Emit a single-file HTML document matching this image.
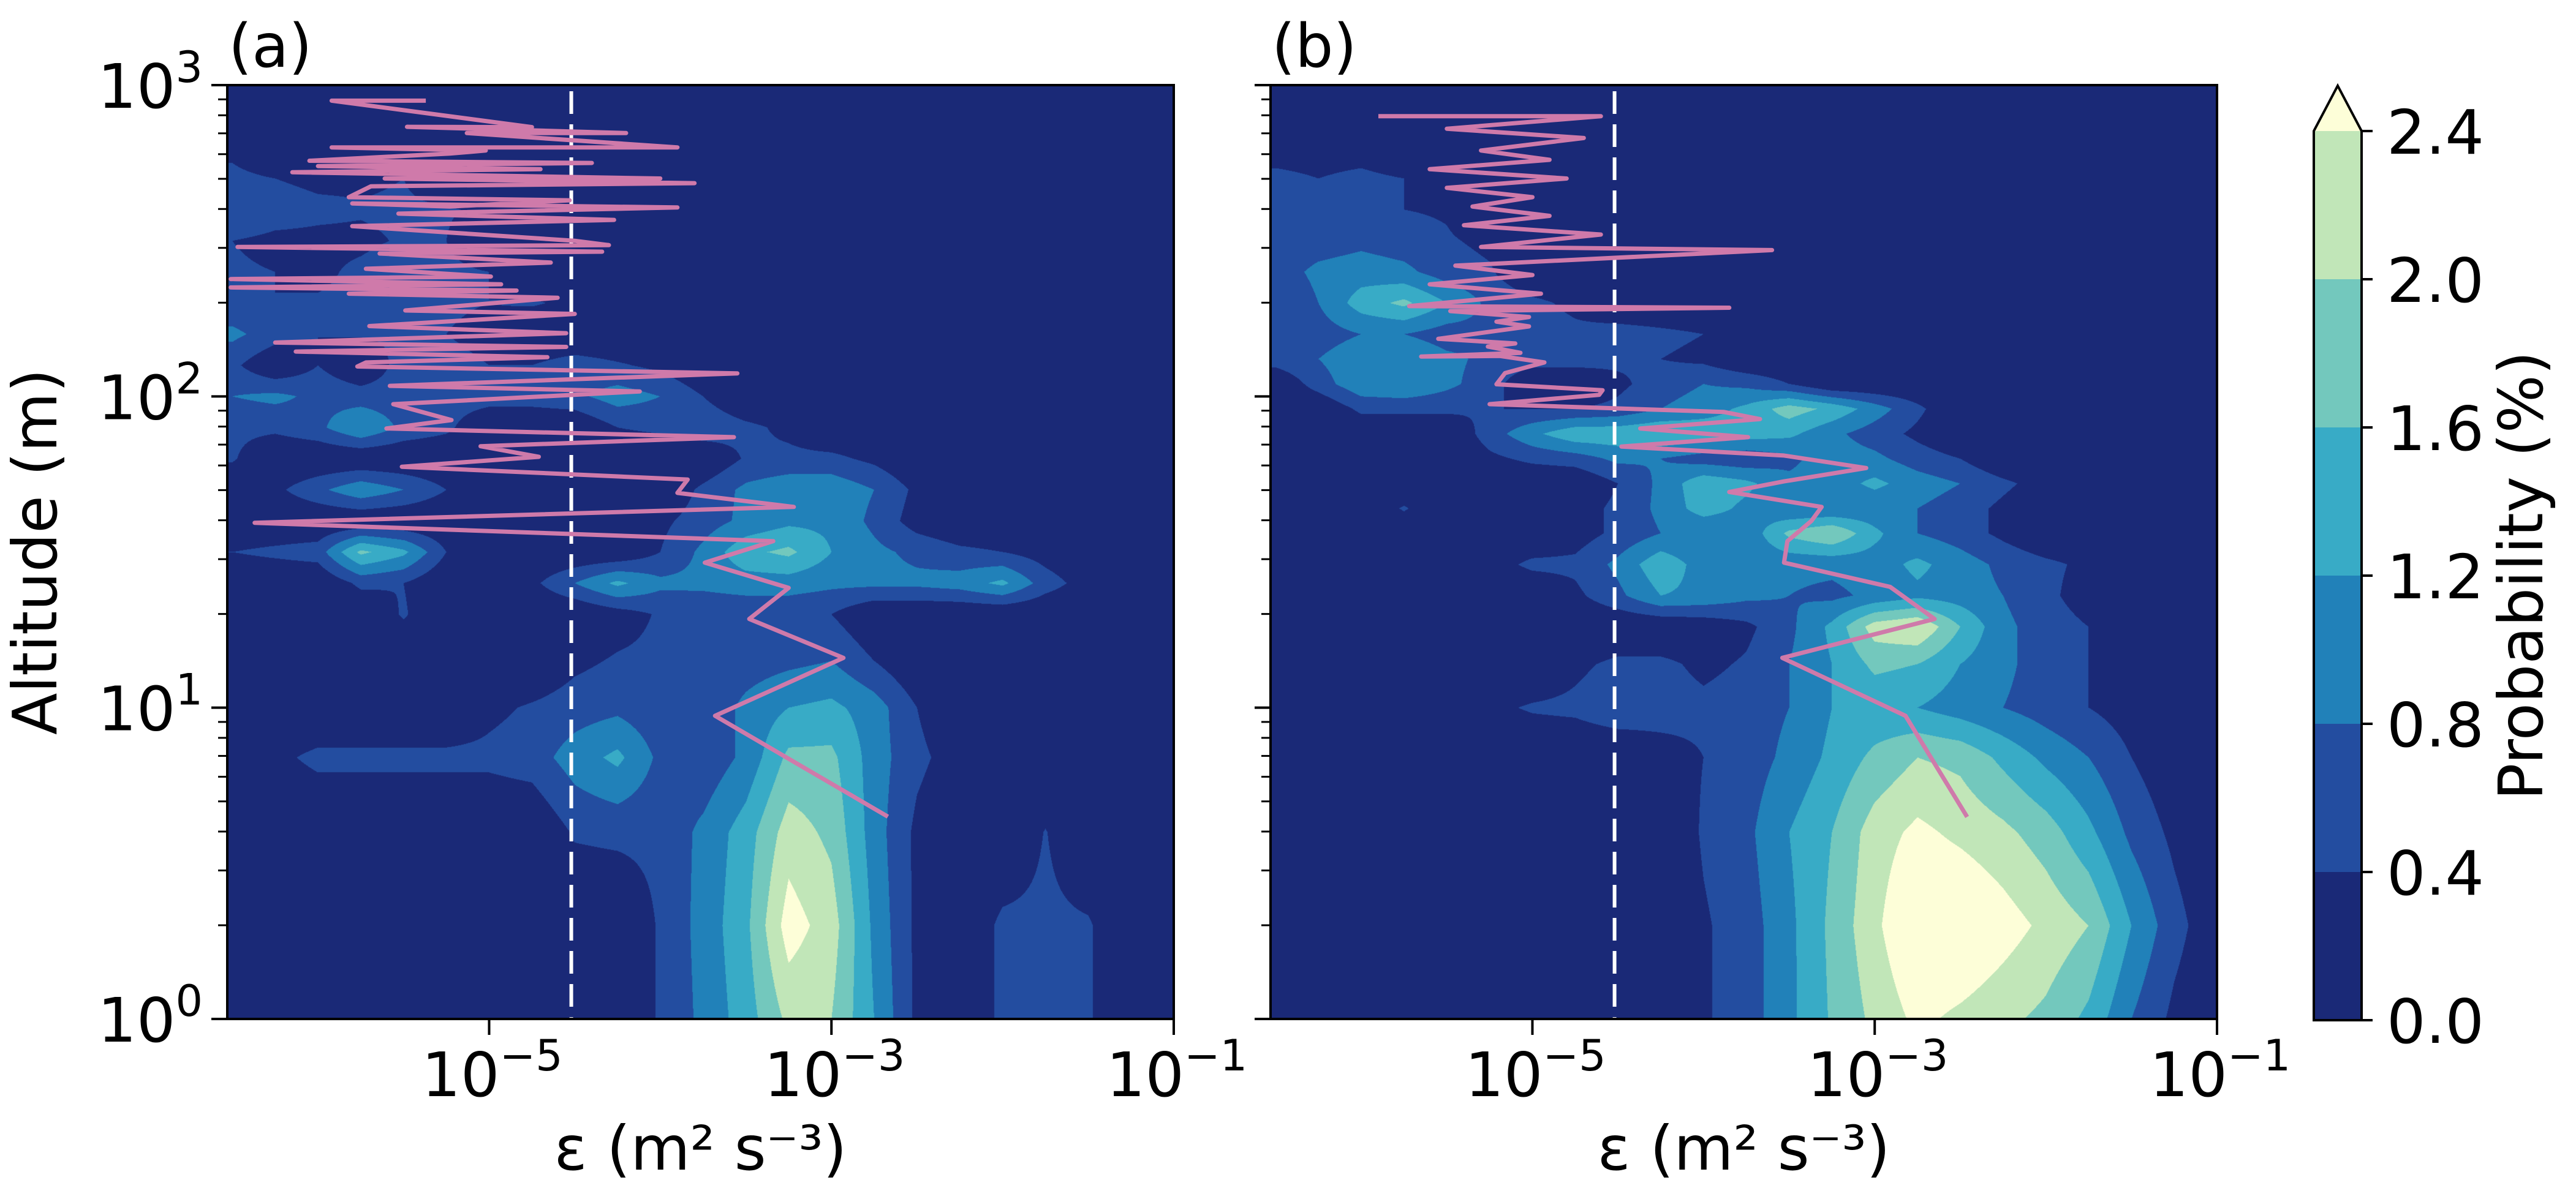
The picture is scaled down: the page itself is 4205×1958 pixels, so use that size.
<!DOCTYPE html>
<html><head><meta charset="utf-8">
<style>
html,body{margin:0;padding:0;background:#fff;}
#root{position:relative;width:4205px;height:1958px;overflow:hidden;font-family:"DejaVu Sans","Liberation Sans",sans-serif;}
canvas{position:absolute;}
svg{position:absolute;left:0;top:0;}
</style></head>
<body>
<div id="root">
<canvas id="ca" width="1545" height="1525" style="left:371px;top:139px"></canvas>
<canvas id="cb" width="1545" height="1525" style="left:2074px;top:139px"></canvas>
<svg id="ov" width="4205" height="1958"></svg>
</div>
<script>
// ---- data ----
const xNodes = [-6.5,-6.25,-6.0,-5.75,-5.5,-5.25,-5.0,-4.75,-4.5,-4.25,-4.0,-3.75,-3.5,-3.25,-3.0,-2.75,-2.5,-2.25,-2.0,-1.75,-1.5,-1.25,-1.0];
const yNodesA = [0,0.3,0.6,0.84,1.0,1.15,1.3,1.4,1.5,1.6,1.7,1.8,1.9,2.0,2.1,2.2,2.3,2.4,2.5,2.6,2.7,2.8,2.9,3.0];
const gridA = [
[0,0,0,0,0,0,0,0,0,0,0.45,0.9,1.4,2.1,2.0,1.2,0.3,0,0.5,0.5,0.45,0,0],
[0,0,0,0,0,0,0,0,0,0,0.45,0.95,1.5,2.6,2.2,1.1,0.3,0,0.5,0.5,0.45,0,0],
[0,0,0,0,0,0,0,0,0.45,0.5,0.5,0.9,1.4,2.2,1.9,1.0,0.3,0,0,0.42,0,0,0],
[0.2,0.3,0.5,0.5,0.5,0.5,0.5,0.6,1.0,1.3,0.7,0.5,0.9,1.7,1.7,1.0,0.5,0.2,0,0,0,0,0],
[0,0,0,0,0,0,0.3,0.45,0.6,0.7,0.5,0.5,0.9,1.2,1.3,1.0,0.4,0,0,0,0,0,0],
[0,0,0,0,0,0,0,0,0.3,0.45,0.5,0.5,0.6,0.7,0.8,0.4,0,0,0,0,0,0,0],
[0,0,0,0,0.45,0,0,0,0,0.2,0.45,0.5,0.5,0.5,0.4,0,0,0,0,0,0,0,0],
[0,0,0,0.5,0.4,0,0,0.3,0.8,1.3,0.9,0.9,1.0,1.0,0.9,0.9,0.9,1.0,1.3,0.6,0.2,0,0],
[0.4,0.5,0.6,1.7,1.3,0.4,0,0,0,0,0.4,0.9,1.5,1.7,1.2,0.9,0.7,0.5,0.4,0.2,0,0,0],
[0,0,0,0,0,0,0,0,0,0,0.3,0.6,0.9,1.1,1.1,0.7,0.2,0,0,0,0,0,0],
[0,0.3,0.7,1.1,0.8,0.4,0,0,0,0,0,0.5,0.9,1.1,1.1,0.8,0.3,0,0,0,0,0,0],
[0.45,0,0,0,0,0,0,0,0,0,0,0,0.45,0.5,0.5,0.3,0,0,0,0,0,0,0],
[0.5,0.5,0.7,1.2,0.7,0.5,0,0,0,0.4,0.5,0.7,0.5,0.3,0,0,0,0,0.4,0,0,0,0],
[0.8,0.9,0.7,0.6,0.6,0.6,0.6,0.6,0.7,1.0,0.8,0.4,0,0,0,0,0,0.4,0.4,0,0,0,0],
[0.5,0,0.4,0,0.6,0.5,0.4,0.4,0.6,0.45,0.3,0,0,0,0,0,0,0,0,0,0,0,0],
[0.9,0.6,0.4,0.45,0.45,0.4,0.3,0,0,0,0,0,0,0,0,0,0,0,0,0,0,0,0],
[0.5,0.4,0.45,0.5,0.6,0.45,0.4,0.45,0.3,0,0,0,0,0,0,0,0,0,0,0,0,0,0],
[0.45,0.4,0.3,0.5,0.7,0.5,0.4,0,0,0,0,0,0,0,0,0,0,0,0,0,0,0,0],
[0.4,0.3,0.3,0.3,0.45,0.4,0,0,0,0,0,0,0,0,0,0,0,0,0,0,0,0,0],
[0.8,0.6,0.5,0.45,0.5,0.45,0.3,0,0,0,0,0,0,0,0,0,0,0,0,0,0,0,0],
[0.5,0.4,0.3,0.3,0.4,0,0,0,0,0,0,0,0,0,0,0,0,0,0,0,0,0,0],
[0.3,0,0,0.3,0,0,0,0,0,0,0,0,0,0,0,0,0,0,0,0,0,0,0],
[0.2,0,0.2,0,0,0,0,0,0,0,0,0,0,0,0,0,0,0,0,0,0,0,0],
[0,0,0,0,0,0,0,0,0,0,0,0,0,0,0,0,0,0,0,0,0,0,0]
];
const yNodesB = [0,0.3,0.6,0.84,1.0,1.14,1.26,1.36,1.46,1.56,1.64,1.72,1.80,1.88,1.96,2.04,2.12,2.2,2.3,2.4,2.5,2.6,2.7,2.8,2.9,3.0];
const gridB = [
[0,0,0,0,0,0,0,0,0,0.1,0.35,0.6,1.1,1.65,2.1,2.5,2.3,2.1,1.9,1.5,0.8,0.3,0],
[0,0,0,0,0,0,0,0,0,0,0.35,0.6,1.1,1.7,2.3,2.9,2.9,2.6,2.3,2.0,1.2,0.55,0.1],
[0,0,0,0,0,0,0,0,0,0,0.45,0.7,1.2,1.6,2.2,2.5,2.3,2.1,1.8,1.3,0.7,0.3,0],
[0,0,0,0,0,0,0,0,0,0.2,0.4,0.6,0.9,1.3,1.7,2.0,1.9,1.5,1.1,0.8,0.4,0.1,0],
[0,0,0,0,0,0.3,0.45,0.5,0.7,0.6,0.5,0.6,0.8,1.2,1.3,1.2,1.0,0.8,0.6,0.4,0.2,0,0],
[0,0,0,0,0,0,0,0.3,0.5,0.5,0.3,0.45,0.8,1.2,1.7,1.6,1.2,0.9,0.6,0.4,0,0,0],
[0,0,0,0,0,0,0,0,0,0,0.1,0.3,0.7,1.3,2.2,2.4,1.6,0.9,0.6,0.4,0,0,0],
[0,0,0,0,0,0,0,0.3,0.7,1.2,1.1,0.9,0.8,0.7,0.9,1.1,1.0,0.8,0.5,0.2,0,0,0],
[0,0,0,0,0,0.2,0.5,0.5,0.9,1.5,1.0,0.9,0.9,0.9,1.0,1.3,1.0,0.7,0.5,0.3,0.1,0,0],
[0,0,0,0,0,0,0,0.2,0.5,0.8,0.8,0.9,1.7,2.0,1.3,0.8,0.6,0.3,0,0,0,0,0],
[0,0,0,0.45,0,0,0,0.2,0.5,0.9,1.4,1.1,0.8,0.8,0.9,0.8,0.6,0.3,0,0,0,0,0],
[0,0,0,0,0,0,0,0,0.4,0.9,1.5,1.3,0.9,1.0,1.3,1.0,0.8,0.5,0.2,0,0,0,0],
[0,0,0,0,0,0.3,0.5,0.6,0.9,0.8,0.6,0.5,0.7,1.0,0.9,0.6,0.4,0,0,0,0,0,0],
[0,0,0,0,0,0.6,1.1,1.5,1.5,1.6,1.5,1.4,1.3,0.9,0.6,0.3,0,0,0,0,0,0,0],
[0,0,0.5,0.5,0.5,0.4,0.4,0.4,0.5,0.8,1.0,1.3,1.8,1.5,1.0,0.5,0,0,0,0,0,0,0],
[0,0.6,1.1,1.2,0.9,0.6,0,0,0.3,0.6,0.8,0.7,0.4,0,0,0,0,0,0,0,0,0,0],
[0.6,0.8,1.1,1.2,0.9,0.7,0.6,0.6,0.5,0.4,0.3,0,0,0,0,0,0,0,0,0,0,0,0],
[0.5,0.6,0.8,0.8,0.6,0.7,0.6,0.5,0.6,0.5,0.4,0,0,0,0,0,0,0,0,0,0,0,0],
[0.4,0.8,1.4,1.7,1.2,0.7,0.5,0.3,0,0,0,0,0,0,0,0,0,0,0,0,0,0,0],
[0.6,0.9,1.0,0.9,0.6,0.45,0,0,0,0,0,0,0,0,0,0,0,0,0,0,0,0,0],
[0.5,0.6,0.7,0.6,0.45,0.3,0,0,0,0,0,0,0,0,0,0,0,0,0,0,0,0,0],
[0.6,0.5,0.45,0.4,0.35,0,0,0,0,0,0,0,0,0,0,0,0,0,0,0,0,0,0],
[0.45,0.4,0.45,0.4,0.3,0,0,0,0,0,0,0,0,0,0,0,0,0,0,0,0,0,0],
[0.3,0.3,0.3,0.2,0,0,0,0,0,0,0,0,0,0,0,0,0,0,0,0,0,0,0],
[0,0,0.2,0,0,0,0,0,0,0,0,0,0,0,0,0,0,0,0,0,0,0,0],
[0,0,0,0,0,0,0,0,0,0,0,0,0,0,0,0,0,0,0,0,0,0,0]
];
const levels = [0,0.4,0.8,1.2,1.6,2.0,2.4];
const levelLabels = ["0.0","0.4","0.8","1.2","1.6","2.0","2.4"];
const levelColors = ["#1a2977","#234da0","#2181b9","#38abc6","#73c8bd","#c1e6b8","#fdfed8"];
// median profile: log10(eps), log10(altitude)
const lineAx = [-2.67,-3.68,-2.93,-3.48,-3.25,-3.74,-3.34,-6.37,-3.22,-3.90,-3.84,-5.51,-4.71,-5.05,-3.57,-5.60,-5.22,-5.56,-4.12,-5.58,-3.55,-5.77,-5.72,-4.66,-6.13,-4.55,-6.25,-4.55,-5.70,-4.50,-5.49,-4.60,-5.82,-4.84,-6.51,-4.93,-6.51,-4.99,-5.72,-4.64,-5.64,-4.34,-6.47,-4.30,-4.50,-5.80,-4.27,-5.53,-3.90,-5.80,-5.23,-4.53,-5.82,-5.69,-3.80,-5.61,-4.00,-6.15,-4.70,-6.00,-4.40,-6.05,-5.23,-5.02,-5.92,-3.90,-5.13,-4.20,-5.48,-4.75,-5.92,-5.37];
const lineAy = [0.65,0.974,1.16,1.285,1.385,1.466,1.535,1.594,1.645,1.69,1.733,1.774,1.806,1.84,1.869,1.897,1.924,1.975,2.016,2.034,2.074,2.096,2.109,2.126,2.144,2.159,2.173,2.203,2.226,2.265,2.276,2.317,2.33,2.34,2.35,2.36,2.377,2.385,2.41,2.43,2.459,2.465,2.48,2.486,2.5,2.547,2.567,2.587,2.607,2.62,2.61,2.63,2.64,2.675,2.685,2.70,2.70,2.72,2.73,2.74,2.75,2.757,2.78,2.79,2.80,2.80,2.846,2.846,2.866,2.865,2.95,2.95];
const lineBx = [-2.46,-2.82,-3.54,-2.65,-2.91,-3.53,-3.51,-3.37,-3.31,-3.85,-3.53,-3.05,-3.53,-4.48,-3.74,-4.37,-3.67,-3.88,-5.25,-4.61,-4.59,-5.21,-5.16,-4.93,-5.19,-5.65,-5.07,-5.26,-5.10,-5.55,-5.02,-5.21,-5.02,-5.48,-3.85,-5.72,-4.95,-5.6,-5.0,-5.45,-3.6,-5.3,-4.6,-5.4,-4.9,-5.35,-5.0,-5.5,-4.8,-5.6,-4.9,-5.3,-4.7,-5.5,-4.6,-5.9];
const lineBy = [0.649,0.974,1.16,1.285,1.388,1.466,1.535,1.60,1.645,1.693,1.727,1.77,1.81,1.839,1.869,1.897,1.927,1.95,1.975,2.005,2.02,2.039,2.075,2.109,2.13,2.128,2.14,2.16,2.17,2.185,2.225,2.24,2.255,2.274,2.285,2.29,2.33,2.36,2.39,2.42,2.47,2.48,2.52,2.55,2.58,2.61,2.64,2.67,2.70,2.73,2.76,2.79,2.83,2.86,2.9,2.9];
const thresholdEps = -4.52;
const xTicks = [-5,-3,-1];
const xTickExp = ["-5","-3","-1"];
const yTicks = [0,1,2,3];
const yTickExp = ["0","1","2","3"];

// ---- axes ----
const XMIN=-6.53, XMAX=-1.0, PW=1545, PH=1525, PTOP=139;
const panels=[{left:371,canvas:'ca',grid:gridA,yn:yNodesA,lx:lineAx,ly:lineAy,name:'a'},
              {left:2074,canvas:'cb',grid:gridB,yn:yNodesB,lx:lineBx,ly:lineBy,name:'b'}];
function xs(le){return (le-XMIN)/(XMAX-XMIN)*PW;}
function ys(la){return PH - la/3*PH;}
function hex(c){return [parseInt(c.substr(1,2),16),parseInt(c.substr(3,2),16),parseInt(c.substr(5,2),16)];}
const rgb = levelColors.map(hex);
function lvl(v){let k=0;for(let i=1;i<levels.length;i++){if(v>=levels[i])k=i;}return k;}
function interp(grid,yn,le,la){
  let fx=(le-xNodes[0])/(xNodes[1]-xNodes[0]);
  fx=Math.max(0,Math.min(xNodes.length-1.0001,fx));
  const i=Math.floor(fx),tx=fx-i;
  let j=0;while(j<yn.length-2&&la>yn[j+1])j++;
  let ty=(la-yn[j])/(yn[j+1]-yn[j]);ty=Math.max(0,Math.min(1,ty));
  const a=grid[j][i],b=grid[j][i+1],c=grid[j+1][i],d=grid[j+1][i+1];
  return (a*(1-tx)+b*tx)*(1-ty)+(c*(1-tx)+d*tx)*ty;
}
panels.forEach(p=>{
  const cv=document.getElementById(p.canvas),ctx=cv.getContext('2d');
  const img=ctx.createImageData(PW,PH),D=img.data;
  for(let py=0;py<PH;py++){
    const la=(PH-py-0.5)/PH*3;
    for(let px=0;px<PW;px++){
      const le=XMIN+(px+0.5)/PW*(XMAX-XMIN);
      const c=rgb[lvl(interp(p.grid,p.yn,le,la))];
      const o=(py*PW+px)*4;D[o]=c[0];D[o+1]=c[1];D[o+2]=c[2];D[o+3]=255;
    }
  }
  ctx.putImageData(img,0,0);
});

const NS='http://www.w3.org/2000/svg';
const svg=document.getElementById('ov');
function mk(tag,attrs,parent){const e=document.createElementNS(NS,tag);for(const k in attrs)e.setAttribute(k,attrs[k]);(parent||svg).appendChild(e);return e;}
function sup(base,exp,x,y,anchor,parent){
  const t=mk('text',{x:x,y:y,'font-size':100,'text-anchor':anchor,fill:'#000','font-family':'DejaVu Sans, Liberation Sans, sans-serif'},parent);
  const a=document.createElementNS(NS,'tspan');a.textContent=base;t.appendChild(a);
  const b=document.createElementNS(NS,'tspan');b.setAttribute('dy','-42');b.setAttribute('font-size','70');b.textContent=exp;t.appendChild(b);
  return t;
}
panels.forEach((p,pi)=>{
  const g=mk('g',{transform:`translate(${p.left},${PTOP})`});
  
  
  const tl=mk('line',{x1:xs(thresholdEps),x2:xs(thresholdEps),y1:10,y2:PH,stroke:'#fff','stroke-width':6,'stroke-dasharray':'37 17'},g);
  
  
  let d='';p.lx.forEach((v,i)=>{d+=(i?'L':'M')+xs(v).toFixed(1)+','+ys(p.ly[i]).toFixed(1);});
  const pl=mk('path',{d:d,fill:'none',stroke:'#cf7aaa','stroke-width':7,'stroke-linejoin':'round'},g);
  
  
  const fr=mk('rect',{x:0,y:0,width:PW,height:PH,fill:'none',stroke:'#000','stroke-width':4},g);
  
  
  xTicks.forEach((t,i)=>{
    mk('line',{x1:xs(t),x2:xs(t),y1:PH,y2:PH+26,stroke:'#000','stroke-width':4},g);
    const lb=sup('10','\u2212'+xTickExp[i].slice(1),xs(t)+5,1790-PTOP,'middle',g);
    
    
  });
  yTicks.forEach((t,i)=>{
    mk('line',{x1:-26,x2:0,y1:ys(t),y2:ys(t),stroke:'#000','stroke-width':4},g);
    if(t<3){for(let m=2;m<10;m++){const yy=ys(t+Math.log10(m));mk('line',{x1:-15,x2:0,y1:yy,y2:yy,stroke:'#000','stroke-width':3},g);}}
    if(pi===0){
      const lb=sup('10',yTickExp[i],-40,ys(t)+37,'end',g);
      
      
    }
  });
  const xl=mk('text',{x:PW/2,y:1910-PTOP,'font-size':100,'text-anchor':'middle','font-family':'DejaVu Sans, Liberation Sans, sans-serif'},g);
  xl.textContent='\u03b5 (m\u00b2 s\u207b\u00b3)';
  
  
  const pt=mk('text',{x:2,y:-30,'font-size':98,'font-family':'DejaVu Sans, Liberation Sans, sans-serif'},g);
  pt.textContent='('+p.name+')';
  
  
});
const yl=mk('text',{x:0,y:0,'font-size':100,'text-anchor':'middle','font-family':'DejaVu Sans, Liberation Sans, sans-serif',transform:'translate(92,901) rotate(-90)'});
yl.textContent='Altitude (m)';



const CBX=3777,CBW=78,CBB=1666,CBH=1452;
const cb=mk('g',{});


const vmax=levels[levels.length-1];
for(let i=0;i<levels.length-1;i++){
  const y0=CBB-levels[i+1]/vmax*CBH, y1=CBB-levels[i]/vmax*CBH;
  const r=mk('rect',{x:CBX,y:y0,width:CBW,height:y1-y0,fill:levelColors[i]},cb);
  
  
}
const topY=CBB-CBH;
const tri=mk('path',{d:`M${CBX},${topY}L${CBX+CBW/2},${topY-74}L${CBX+CBW},${topY}Z`,fill:levelColors[levelColors.length-1]},cb);


mk('path',{d:`M${CBX},${CBB}L${CBX},${topY}L${CBX+CBW/2},${topY-74}L${CBX+CBW},${topY}L${CBX+CBW},${CBB}Z`,fill:'none',stroke:'#000','stroke-width':4},cb);
levels.forEach((l,i)=>{
  const y=CBB-l/vmax*CBH;
  mk('line',{x1:CBX+CBW,x2:CBX+CBW+18,y1:y,y2:y,stroke:'#000','stroke-width':4},cb);
  const t=mk('text',{x:3896,y:y+37,'font-size':100,'font-family':'DejaVu Sans, Liberation Sans, sans-serif'},cb);
  t.textContent=levelLabels[i];
  
  
});
const ct=mk('text',{x:0,y:0,'font-size':100,'text-anchor':'middle','font-family':'DejaVu Sans, Liberation Sans, sans-serif',transform:'translate(4150,940) rotate(-90)'});
ct.textContent='Probability (%)';


</script>
</body></html>
